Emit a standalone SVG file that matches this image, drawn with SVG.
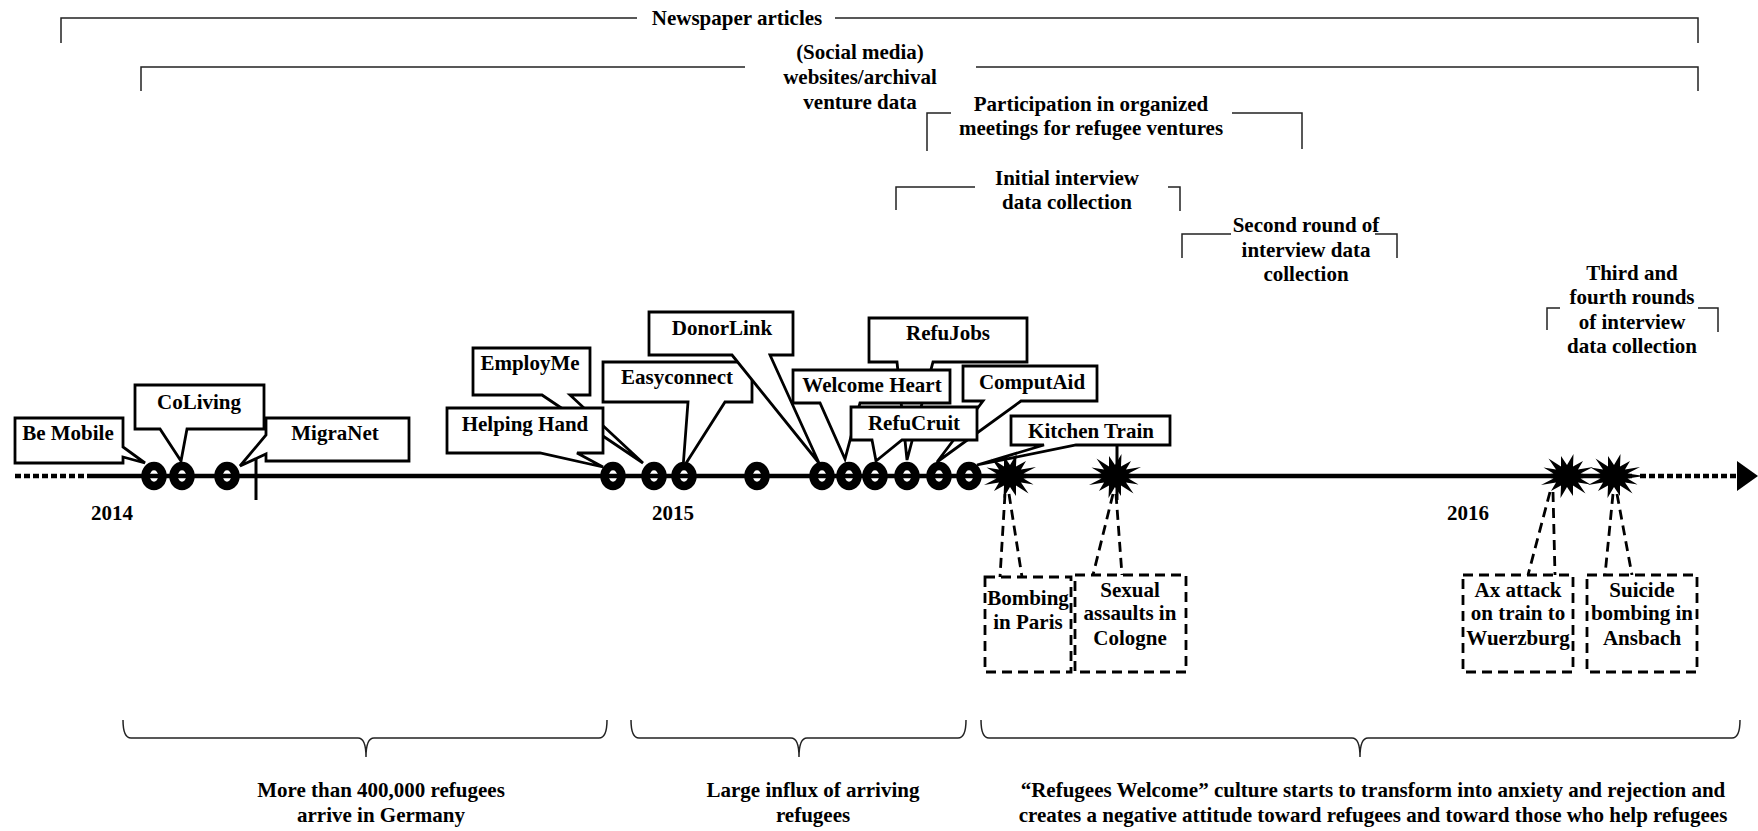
<svg xmlns="http://www.w3.org/2000/svg" xmlns:xlink="http://www.w3.org/1999/xlink" width="1758" height="831" viewBox="0 0 1758 831">
  <style>
    text { font-family: "Liberation Serif", "Times New Roman", serif; font-weight: bold; font-size: 21px; fill: #000; text-anchor: middle; }
    .span { fill: none; stroke: #222; stroke-width: 1.5; }
    .brace { fill: none; stroke: #222; stroke-width: 1.5; }
    .callout { fill: #fff; stroke: #000; stroke-width: 2.8; stroke-linejoin: miter; }
    .venture { fill: #fff; stroke: #000; stroke-width: 8.5; }
    .event { fill: #fff; stroke: #000; stroke-width: 2.8; stroke-dasharray: 10 6; }
    .lead { fill: none; stroke: #000; stroke-width: 2.8; stroke-dasharray: 10 6; }
    .axis { stroke: #000; stroke-width: 4.5; fill: none; }
    .dots { stroke: #000; stroke-width: 4.5; fill: none; stroke-dasharray: 6 3; }
    .tick { stroke: #000; stroke-width: 3; }
  </style>
  <defs>
    <path id="burst" d="M30,0 L13.5,2.5 L23.5,8.5 L11,6.5 L18.5,17.5 L6,9.5 L6,20 L0,11 L-6.5,22 L-6,9.5 L-16,15 L-11,6.5 L-26,9 L-13.5,2.5 L-30,0 L-13.5,-2.5 L-23.5,-8.5 L-11,-6.5 L-18.5,-17.5 L-6,-9.5 L-6,-20 L0,-11 L6.5,-22 L6,-9.5 L16,-15 L11,-6.5 L26,-9 L13.5,-2.5 Z" fill="#000"/>
  </defs>

  <!-- data source spans across the top -->
  <g id="span-newspaper">
    <path class="span" d="M61,43 V18 H637 M835,18 H1698 V43"/>
    <text x="737" y="25">Newspaper articles</text>
  </g>
  <g id="span-websites">
    <path class="span" d="M141,91 V67 H745 M976,67 H1698 V91"/>
    <text x="860" y="59">(Social media)</text>
    <text x="860" y="84">websites/archival</text>
    <text x="860" y="109">venture data</text>
  </g>
  <g id="span-meetings">
    <path class="span" d="M927,151 V113 H951 M1232,113 H1302 V149"/>
    <text x="1091" y="111">Participation in organized</text>
    <text x="1091" y="135">meetings for refugee ventures</text>
  </g>
  <g id="span-initial">
    <path class="span" d="M896,210 V187 H975 M1168,187 H1180 V211"/>
    <text x="1067" y="185">Initial interview</text>
    <text x="1067" y="209">data collection</text>
  </g>
  <g id="span-second">
    <path class="span" d="M1182,258 V234 H1231 M1375,234 H1397 V258"/>
    <text x="1306" y="232">Second round of</text>
    <text x="1306" y="257">interview data</text>
    <text x="1306" y="281">collection</text>
  </g>
  <g id="span-third">
    <path class="span" d="M1547,330 V308 H1560 M1698,308 H1718 V332"/>
    <text x="1632" y="280">Third and</text>
    <text x="1632" y="304">fourth rounds</text>
    <text x="1632" y="329">of interview</text>
    <text x="1632" y="353">data collection</text>
  </g>

  <!-- venture markers on the time axis -->
  <g id="markers">
    <ellipse class="venture" cx="154" cy="476" rx="8.5" ry="10"/>
    <ellipse class="venture" cx="182" cy="476" rx="8.5" ry="10"/>
    <ellipse class="venture" cx="227" cy="476" rx="8.5" ry="10"/>
    <ellipse class="venture" cx="613" cy="476" rx="8.5" ry="10"/>
    <ellipse class="venture" cx="654" cy="476" rx="8.5" ry="10"/>
    <ellipse class="venture" cx="684" cy="476" rx="8.5" ry="10"/>
    <ellipse class="venture" cx="757" cy="476" rx="8.5" ry="10"/>
    <ellipse class="venture" cx="822" cy="476" rx="8.5" ry="10"/>
    <ellipse class="venture" cx="849" cy="476" rx="8.5" ry="10"/>
    <ellipse class="venture" cx="875" cy="476" rx="8.5" ry="10"/>
    <ellipse class="venture" cx="907" cy="476" rx="8.5" ry="10"/>
    <ellipse class="venture" cx="939" cy="476" rx="8.5" ry="10"/>
    <ellipse class="venture" cx="969" cy="476" rx="8.5" ry="10"/>
  </g>

  <!-- time axis -->
  <g id="axis">
    <line class="dots" x1="15" y1="476" x2="88" y2="476"/>
    <line class="axis" x1="88" y1="476" x2="1632" y2="476"/>
    <line class="dots" x1="1640" y1="476" x2="1738" y2="476"/>
    <polygon points="1737,461 1758,476 1737,491" fill="#000"/>
    <line class="tick" x1="256" y1="455" x2="256" y2="500"/>
    <line class="tick" x1="1117" y1="445" x2="1117" y2="500"/>
    <text x="112" y="520">2014</text>
    <text x="673" y="520">2015</text>
    <text x="1468" y="520">2016</text>
  </g>

  <!-- venture callouts -->
  <g id="be-mobile">
    <path class="callout" d="M15,418 H123 V447 L145,463 L123,457 V463 H15 Z"/>
    <text x="68" y="440">Be Mobile</text>
  </g>
  <g id="coliving">
    <path class="callout" d="M135,385 H264 V429 H187 L181,461 L160,429 H135 Z"/>
    <text x="199" y="409">CoLiving</text>
  </g>
  <g id="migranet">
    <path class="callout" d="M266,418 H409 V461 H266 V454 L240,466 L266,435 Z"/>
    <text x="335" y="440">MigraNet</text>
  </g>
  <g id="employme">
    <path class="callout" d="M473,348 H590 V395 H570 L643,463 L542,395 H473 Z"/>
    <text x="530" y="370">EmployMe</text>
  </g>
  <g id="helping-hand">
    <path class="callout" d="M447,408 H603 V453 H577 L603,467 L540,453 H447 Z"/>
    <text x="525" y="431">Helping Hand</text>
  </g>
  <g id="easyconnect">
    <path class="callout" d="M603,362 H752 V402 H725 L683,468 L688,402 H603 Z"/>
    <text x="677" y="384">Easyconnect</text>
  </g>
  <g id="donorlink">
    <path class="callout" d="M649,312 H793 V355 H770 L819,463 L732,355 H649 Z"/>
    <text x="722" y="335">DonorLink</text>
  </g>
  <g id="refujobs">
    <path class="callout" d="M869,318 H1027 V362 H933 L907,460 L897,362 H869 Z"/>
    <text x="948" y="340">RefuJobs</text>
  </g>
  <g id="welcome-heart">
    <path class="callout" d="M793,370 H950 V403 H860 L845,459 L820,403 H793 Z"/>
    <text x="872" y="392">Welcome Heart</text>
  </g>
  <g id="computaid">
    <path class="callout" d="M963,366 H1097 V401 H1021 L937,462 L983,401 H963 Z"/>
    <text x="1032" y="389">ComputAid</text>
  </g>
  <g id="refucruit">
    <path class="callout" d="M851,407 H977 V440 H902 L876,461 L872,440 H851 Z"/>
    <text x="914" y="430">RefuCruit</text>
  </g>
  <g id="kitchen-train">
    <path class="callout" d="M1011,416 H1170 V445 H1076 L977,465 L1044,445 H1011 Z"/>
    <text x="1091" y="438">Kitchen Train</text>
  </g>

  <!-- critical events -->
  <g id="bursts">
    <use xlink:href="#burst" transform="translate(1010,476)"/>
    <use xlink:href="#burst" transform="translate(1115,476)"/>
    <use xlink:href="#burst" transform="translate(1567,476)"/>
    <use xlink:href="#burst" transform="translate(1614,476)"/>
  </g>
  <g id="event-links">
    <path class="lead" d="M1005,494 L1000,577 M1009,494 L1022,577"/>
    <path class="lead" d="M1113,494 L1093,575 M1116,494 L1122,575"/>
    <path class="lead" d="M1550,492 L1528,575 M1553,492 L1555,575"/>
    <path class="lead" d="M1613,494 L1605,575 M1617,494 L1632,575"/>
  </g>
  <g id="event-paris">
    <rect class="event" x="985" y="577" width="86" height="95"/>
    <text x="1028" y="605">Bombing</text>
    <text x="1028" y="629">in Paris</text>
  </g>
  <g id="event-cologne">
    <rect class="event" x="1075" y="575" width="111" height="97"/>
    <text x="1130" y="597">Sexual</text>
    <text x="1130" y="620">assaults in</text>
    <text x="1130" y="645">Cologne</text>
  </g>
  <g id="event-wuerzburg">
    <rect class="event" x="1463" y="575" width="110" height="97"/>
    <text x="1518" y="597">Ax attack</text>
    <text x="1518" y="620">on train to</text>
    <text x="1518" y="645">Wuerzburg</text>
  </g>
  <g id="event-ansbach">
    <rect class="event" x="1587" y="575" width="110" height="97"/>
    <text x="1642" y="597">Suicide</text>
    <text x="1642" y="620">bombing in</text>
    <text x="1642" y="645">Ansbach</text>
  </g>

  <!-- context periods below the axis -->
  <g id="period-1">
    <path class="brace" d="M123,720 Q123,738 131,738 H358 Q366,738 366,757 Q366,738 374,738 H599 Q607,738 607,720"/>
    <text x="381" y="797">More than 400,000 refugees</text>
    <text x="381" y="822">arrive in Germany</text>
  </g>
  <g id="period-2">
    <path class="brace" d="M631,720 Q631,738 639,738 H791 Q799,738 799,757 Q799,738 807,738 H958 Q966,738 966,720"/>
    <text x="813" y="797">Large influx of arriving</text>
    <text x="813" y="822">refugees</text>
  </g>
  <g id="period-3">
    <path class="brace" d="M981,720 Q981,738 989,738 H1352 Q1360,738 1360,757 Q1360,738 1368,738 H1732 Q1740,738 1740,720"/>
    <text x="1373" y="797">“Refugees Welcome” culture starts to transform into anxiety and rejection and</text>
    <text x="1373" y="822">creates a negative attitude toward refugees and toward those who help refugees</text>
  </g>
</svg>
